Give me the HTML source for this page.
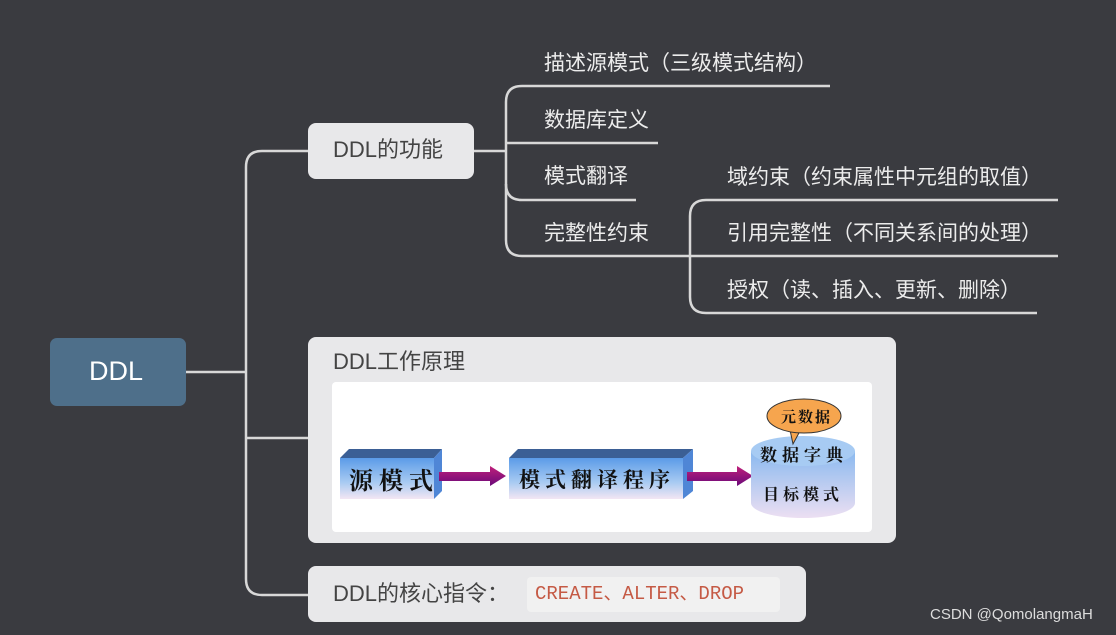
<!DOCTYPE html>
<html><head><meta charset="utf-8"><style>
body{margin:0;width:1116px;height:635px;background:#3a3b40;overflow:hidden;position:relative;font-family:"Liberation Sans","Noto Sans CJK SC",sans-serif}
.t{position:absolute;color:#ececec;font-size:21px;white-space:nowrap;line-height:1}
.box{position:absolute;background:#e8e8ea;border-radius:8px}
</style></head><body>
<svg width="1116" height="635" style="position:absolute;left:0;top:0" fill="none" stroke="#d8d8d8" stroke-width="2.5">
<path d="M186 372 H246"/>
<path d="M308 151 H262 Q246 151 246 167 V579 Q246 595 262 595 H308"/>
<path d="M246 438 H308"/>
<path d="M474 151 H506"/>
<path d="M830 86 H522 Q506 86 506 102 V240 Q506 256 522 256 H690"/>
<path d="M506 143 H658"/>
<path d="M506 184 Q506 200 522 200 H636"/>
<path d="M1058 200 H706 Q690 200 690 216 V297 Q690 313 706 313 H1037"/>
<path d="M690 256 H1058"/>
</svg>
<div class="box" style="left:50px;top:338px;width:136px;height:68px;background:#4e6f8a;border-radius:7px"></div>
<div class="t" style="left:89px;top:358px;font-size:27px;color:#fff">DDL</div>
<div class="box" style="left:308px;top:123px;width:166px;height:56px"></div>
<div class="t" style="left:333px;top:139px;font-size:22px;color:#444">DDL的功能</div>
<div class="t" style="left:544px;top:53px">描述源模式（三级模式结构）</div>
<div class="t" style="left:544px;top:110px">数据库定义</div>
<div class="t" style="left:544px;top:166px">模式翻译</div>
<div class="t" style="left:544px;top:223px">完整性约束</div>
<div class="t" style="left:727px;top:167px">域约束（约束属性中元组的取值）</div>
<div class="t" style="left:727px;top:223px">引用完整性（不同关系间的处理）</div>
<div class="t" style="left:727px;top:280px">授权（读、插入、更新、删除）</div>
<div class="box" style="left:308px;top:337px;width:588px;height:206px"></div>
<div class="t" style="left:333px;top:351px;font-size:22px;color:#444">DDL工作原理</div>
<div style="position:absolute;left:332px;top:382px;width:540px;height:150px;background:#fff;border-radius:4px"></div>
<svg width="1116" height="635" style="position:absolute;left:0;top:0">
<defs>
<linearGradient id="f" x1="0" y1="0" x2="0" y2="1"><stop offset="0" stop-color="#5b9be8"/><stop offset="0.6" stop-color="#a9cbf2"/><stop offset="1" stop-color="#f3e6f3"/></linearGradient>
<linearGradient id="a" x1="0" y1="0" x2="0" y2="1"><stop offset="0" stop-color="#c0207a"/><stop offset="1" stop-color="#6a0a7a"/></linearGradient>
<linearGradient id="c" x1="0" y1="0" x2="0" y2="1"><stop offset="0" stop-color="#8ab9ef"/><stop offset="1" stop-color="#ecdff2"/></linearGradient>
</defs>
<polygon points="340,458 349,449 442,449 434,458" fill="#3b5f95"/>
<polygon points="434,458 442,449 442,491 434,499" fill="#4f86d6"/>
<rect x="340" y="458" width="94" height="41" fill="url(#f)"/>
<text x="349" y="489" font-size="24" font-family="Noto Serif CJK SC,serif" font-weight="bold" fill="#111" letter-spacing="6">源模式</text>
<polygon points="439,472 490,472 490,466 506,476 490,486 490,481 439,481" fill="url(#a)"/>
<polygon points="509,458 518,449 693,449 683,458" fill="#3b5f95"/>
<polygon points="683,458 693,449 693,491 683,499" fill="#4f86d6"/>
<rect x="509" y="458" width="174" height="41" fill="url(#f)"/>
<text x="519" y="487" font-size="21" font-family="Noto Serif CJK SC,serif" font-weight="bold" fill="#111" letter-spacing="5">模式翻译程序</text>
<polygon points="687,472 737,472 737,466 753,476 737,486 737,481 687,481" fill="url(#a)"/>
<path d="M751 451 V503 A52 15 0 0 0 855 503 V451" fill="url(#c)"/>
<ellipse cx="803" cy="451" rx="52" ry="15" fill="#a7cbf3"/>
<text x="760" y="461" font-size="17" font-family="Noto Serif CJK SC,serif" font-weight="bold" fill="#111" letter-spacing="5">数据字典</text>
<text x="763" y="500" font-size="16" font-family="Noto Serif CJK SC,serif" font-weight="bold" fill="#111" letter-spacing="4">目标模式</text>
<path d="M790 430 L793 444 L800 431 Z" fill="#f6a54e" stroke="#333" stroke-width="1"/>
<ellipse cx="804" cy="416" rx="37" ry="17" fill="#f6a54e" stroke="#333" stroke-width="1"/>
<text x="781" y="422" font-size="15" font-family="Noto Serif CJK SC,serif" font-weight="bold" fill="#111" letter-spacing="2">元数据</text>
</svg>
<div class="box" style="left:308px;top:566px;width:498px;height:56px"></div>
<div class="t" style="left:333px;top:583px;font-size:22px;color:#444">DDL的核心指令：</div>
<div style="position:absolute;left:527px;top:577px;width:253px;height:35px;background:#f1f1f1;border-radius:4px"></div>
<div class="t" style="left:535px;top:585px;font-size:19px;color:#c55a45;font-family:'Liberation Mono','Noto Sans CJK SC',monospace">CREATE、ALTER、DROP</div>
<div class="t" style="left:930px;top:607px;font-size:15px;color:#ddd">CSDN @QomolangmaH</div>
</body></html>
